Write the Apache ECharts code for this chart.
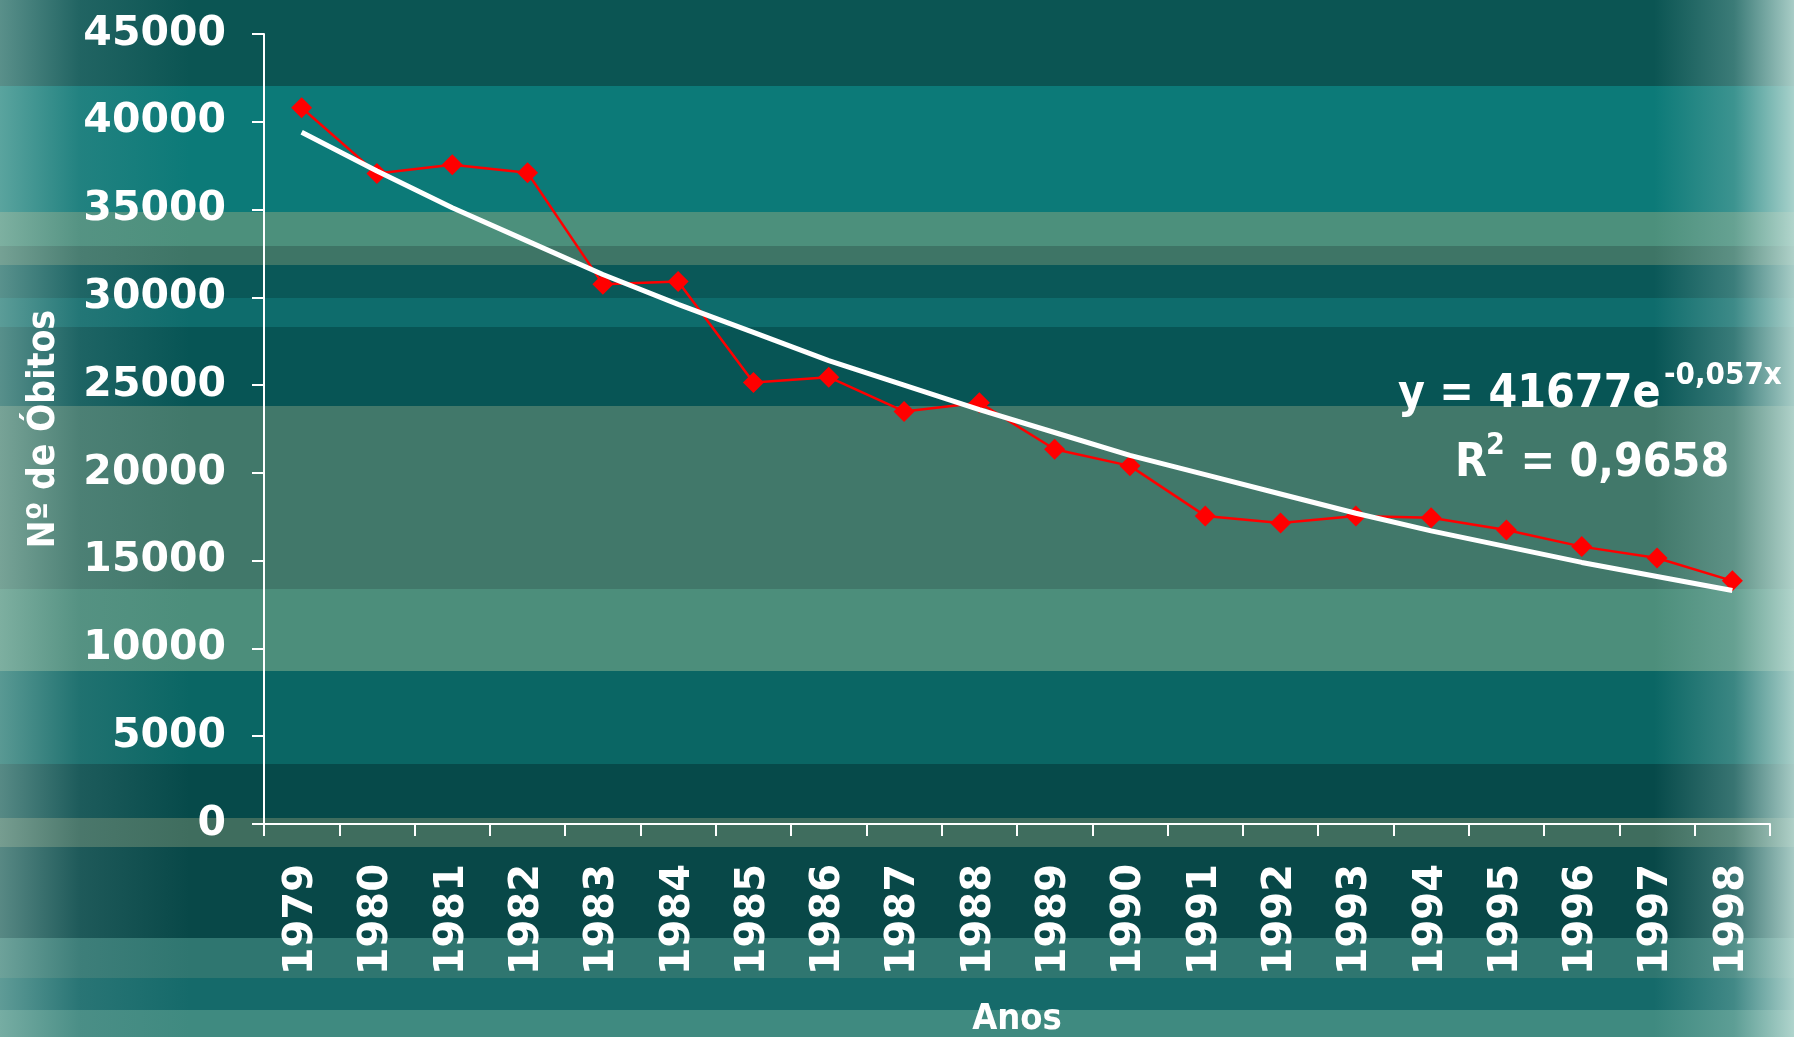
<!DOCTYPE html>
<html>
<head>
<meta charset="utf-8">
<script src="https://cdn.jsdelivr.net/npm/echarts@6/dist/echarts.min.js"></script>
<style>
  html, body { margin: 0; padding: 0; }
  #wrap {
    position: relative;
    width: 1794px;
    height: 1037px;
    overflow: hidden;
    background:
      linear-gradient(to left, rgba(195,225,218,0.85) 0px, rgba(150,195,188,0.35) 60px, rgba(0,0,0,0) 140px),
      linear-gradient(to right, rgba(185,215,205,0.45) 0px, rgba(120,160,160,0.2) 80px, rgba(0,0,0,0) 190px),
      linear-gradient(to bottom,
        #0b5553 0px, #0b5553 86px,
        #0c7a78 86px, #0c7a78 212px,
        #4c907c 212px, #4c907c 246px,
        #3e7566 246px, #3e7566 265px,
        #0a5858 265px, #0a5858 298px,
        #0e6c6c 298px, #0e6c6c 327px,
        #075555 327px, #075555 406px,
        #41786a 406px, #41786a 589px,
        #4c8e7b 589px, #4c8e7b 671px,
        #0a6664 671px, #0a6664 764px,
        #064a4a 764px, #064a4a 818px,
        #3f6d5e 818px, #3f6d5e 847px,
        #084848 847px, #084848 938px,
        #2f7670 938px, #2f7670 978px,
        #156a6a 978px, #156a6a 1010px,
        #3f8a80 1010px, #3f8a80 1037px);
  }
  #chart { position: absolute; left: 0; top: 0; width: 1794px; height: 1037px; }
</style>
</head>
<body>
<div id="wrap"><div id="chart"></div></div>
<script>
const years = ["1979", "1980", "1981", "1982", "1983", "1984", "1985", "1986", "1987", "1988",
  "1989", "1990", "1991", "1992", "1993", "1994", "1995", "1996", "1997", "1998"];
const obitos = [40800, 37050, 37550, 37100, 30750, 30900, 25150, 25450, 23500, 24000,
  21350, 20400, 17550, 17150, 17550, 17450, 16750, 15800, 15150, 13850];
// linha de tendência exponencial
const tendencia = [39400, 37200, 35100, 33200, 31300, 29600, 28000, 26400, 25000, 23600,
  22300, 21000, 19900, 18800, 17700, 16700, 15800, 14900, 14100, 13300];

const chart = echarts.init(document.getElementById("chart"), null, { renderer: "canvas" });

const tickFont = '"DejaVu Sans", Verdana, sans-serif';
const nameFont = '"DejaVu Sans Condensed", "DejaVu Sans", sans-serif';

const option = {
  backgroundColor: "transparent",
  animation: false,
  grid: {
    left: 264,
    right: 24,
    top: 34,
    bottom: 213,
    containLabel: false,
    outerBoundsMode: "none",
  },
  xAxis: {
    type: "category",
    data: years,
    boundaryGap: true,
    name: "Anos",
    nameLocation: "middle",
    nameGap: 178,
    nameTextStyle: { color: "#fff", fontSize: 36, fontWeight: "bold", fontFamily: nameFont },
    axisLine: { show: true, lineStyle: { color: "#fff", width: 2 } },
    axisTick: { show: true, alignWithLabel: false, length: 12, lineStyle: { color: "#fff", width: 2 } },
    axisLabel: {
      color: "#fff",
      fontSize: 40,
      fontWeight: "bold",
      fontFamily: tickFont,
      rotate: 90,
      margin: 40,
      interval: 0,
    },
    splitLine: { show: false },
  },
  yAxis: {
    type: "value",
    min: 0,
    max: 45000,
    interval: 5000,
    name: "Nº de Óbitos",
    nameLocation: "middle",
    nameRotate: 90,
    nameGap: 201,
    nameTextStyle: { color: "#fff", fontSize: 37, fontWeight: "bold", fontFamily: nameFont },
    axisLine: { show: true, lineStyle: { color: "#fff", width: 2 } },
    axisTick: { show: true, length: 12, lineStyle: { color: "#fff", width: 2 } },
    axisLabel: {
      color: "#fff",
      fontSize: 41,
      fontWeight: "bold",
      fontFamily: tickFont,
      margin: 38,
      formatter: (v) => String(v),
    },
    splitLine: { show: false },
  },
  series: [
    {
      name: "Óbitos",
      type: "line",
      data: obitos,
      symbol: "diamond",
      symbolSize: 21,
      lineStyle: { color: "#ff0000", width: 2.5 },
      itemStyle: { color: "#ff0000" },
      z: 2,
    },
    {
      name: "Tendência",
      type: "line",
      data: tendencia,
      symbol: "none",
      smooth: false,
      lineStyle: { color: "#ffffff", width: 5 },
      z: 3,
    },
  ],
  graphic: [
    {
      type: "text",
      left: 1398,
      top: 372,
      style: { text: "y = 41677e", fill: "#fff", font: "bold 46px " + nameFont },
      z: 10,
    },
    {
      type: "text",
      left: 1664,
      top: 360,
      style: { text: "-0,057x", fill: "#fff", font: "bold 31px " + nameFont },
      z: 10,
    },
    {
      type: "text",
      left: 1455,
      top: 441,
      style: { text: "R", fill: "#fff", font: "bold 46px " + nameFont },
      z: 10,
    },
    {
      type: "text",
      left: 1486,
      top: 431,
      style: { text: "2", fill: "#fff", font: "bold 30px " + nameFont },
      z: 10,
    },
    {
      type: "text",
      left: 1506,
      top: 441,
      style: { text: " = 0,9658", fill: "#fff", font: "bold 46px " + nameFont },
      z: 10,
    },
  ],
};

chart.setOption(option);
</script>
</body>
</html>
